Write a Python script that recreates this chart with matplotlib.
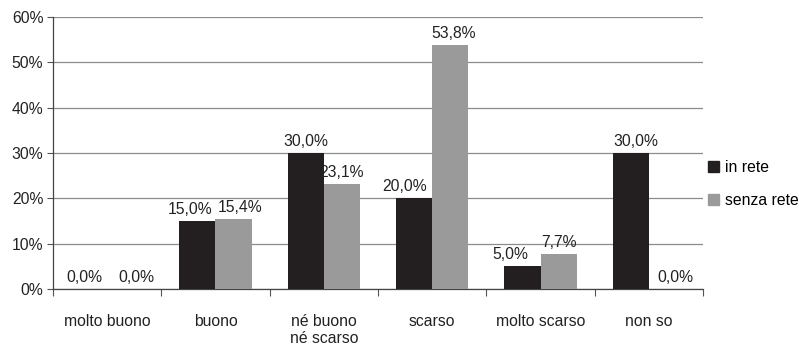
import numpy as np
import matplotlib.pyplot as plt
from matplotlib.patches import Patch

plt.rcParams['font.family'] = ['Liberation Sans', 'DejaVu Sans']

categories = ['molto buono', 'buono', 'né buono\nné scarso', 'scarso', 'molto scarso', 'non so']
in_rete = [0.0, 15.0, 30.0, 20.0, 5.0, 30.0]
senza_rete = [0.0, 15.4, 23.1, 53.8, 7.7, 0.0]
series_names = ['in rete', 'senza rete']
yticks = [0, 10, 20, 30, 40, 50, 60]

# horizontal label nudges (pixels) as placed in the original chart
nudge_in = [-5, -7, 0, -10, -12, 5]
nudge_senza = [11, 7, 0, 3, 0, 8]

dark = '#231f20'
grey = '#9a9a9a'
fs = 11.3

fig = plt.figure(figsize=(7.99, 3.46), dpi=100)
ax = fig.add_axes([0.0663, 0.165, 0.8136, 0.786])

x = np.arange(len(categories))
w = 0.333
b1 = ax.bar(x - w / 2, in_rete, w, color=dark, zorder=3)
b2 = ax.bar(x + w / 2, senza_rete, w, color=grey, zorder=3)

def fmt(v):
    return f'{v:.1f}%'.replace('.', ',')

for bars, vals, nud in [(b1, in_rete, nudge_in), (b2, senza_rete, nudge_senza)]:
    for r, v, n in zip(bars, vals, nud):
        ax.annotate(fmt(v), (r.get_x() + r.get_width() / 2, v), xytext=(n * 0.72, 3),
                    textcoords='offset points', ha='center', va='bottom',
                    fontsize=fs, color='#222222', zorder=4)

ax.set_xlim(-0.5, len(categories) - 0.5)
ax.set_ylim(0, 60)
ax.set_yticks(yticks)
ax.set_yticklabels([f'{t}%' for t in yticks], fontsize=fs, color='#222222')
ax.yaxis.grid(True, color='#8c8c8c', linewidth=0.9, zorder=0)

# category boundaries as ticks, labels at centers
ax.set_xticks(np.arange(len(categories) + 1) - 0.5)
ax.set_xticklabels([])
ax.set_xticks(x, minor=True)
ax.set_xticklabels(categories, minor=True, fontsize=fs, color='#222222', va='top')
ax.tick_params(axis='x', which='minor', length=0, pad=18)
ax.tick_params(axis='x', which='major', length=5, color='#555555')
ax.tick_params(axis='y', length=4, color='#555555', pad=3)

for s in ['top', 'right']:
    ax.spines[s].set_visible(False)
for s in ['left', 'bottom']:
    ax.spines[s].set_color('#444444')
    ax.spines[s].set_linewidth(0.9)

handles = [Patch(color=dark), Patch(color=grey)]
fig.legend(handles, series_names, loc='upper left', bbox_to_anchor=(0.878, 0.557),
           frameon=False, fontsize=fs, handlelength=0.7, handleheight=0.7,
           handletextpad=0.4, labelspacing=1.15, borderaxespad=0)

fig.savefig('out.png', dpi=100)
